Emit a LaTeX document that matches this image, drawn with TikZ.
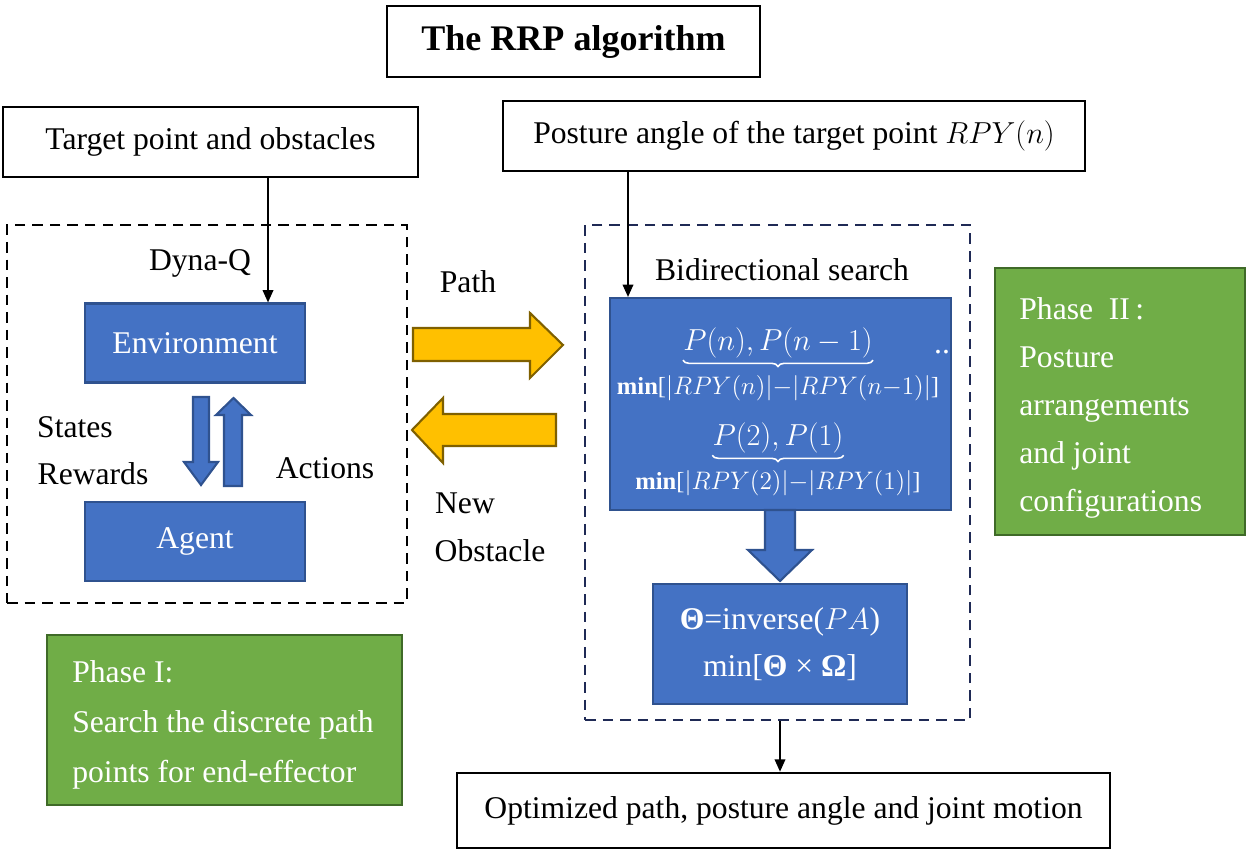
\documentclass[tikz,border=0pt]{standalone}
\usepackage{fontspec}
\setmainfont{Liberation Serif}
\usepackage{amsmath,amssymb}
\usepackage{xcolor}
\usepackage{tikz}
\usetikzlibrary{arrows.meta,decorations.pathreplacing}

\definecolor{boxblue}{HTML}{4472C4}
\definecolor{boxblueline}{HTML}{2F528F}
\definecolor{phasegreen}{HTML}{70AD47}
\definecolor{phasegreenline}{HTML}{3F6A28}
\definecolor{arrowyellow}{HTML}{FFC000}
\definecolor{arrowyellowline}{HTML}{7F6000}
\definecolor{framenavy}{HTML}{1F2A55}

\newcommand{\figfont}{\fontsize{18}{27}\selectfont}

\tikzset{
  plainbox/.style={draw, line width=1.5pt, inner sep=0pt, font=\figfont},
  bluebox/.style={draw=boxblueline, fill=boxblue, line width=1.2pt, inner sep=0pt,
    text=white, font=\figfont, minimum width=4.4cm, minimum height=1.58cm},
  phasebox/.style={draw=phasegreenline, fill=phasegreen, line width=1.2pt, inner sep=0pt},
  phasetext/.style={text=white, font=\fontsize{18}{#1}\selectfont, align=left, inner sep=0pt, anchor=west},
  framebox/.style={draw=#1, dashed, dash pattern=on 6pt off 4pt, line width=1.2pt, inner sep=0pt},
  lbl/.style={font=\figfont, inner sep=0pt},
  minlbl/.style={font=\fontsize{14}{16}\selectfont, inner sep=0pt, text=white},
  ubrace/.style={draw=white, line width=0.9pt, decorate, decoration={brace, mirror, amplitude=3.5pt}},
  link/.style={-{Triangle[length=7pt,width=6pt]}, line width=1pt},
  blockblue/.style={draw=boxblueline, fill=boxblue, line width=1.2pt},
  blockyellow/.style={draw=arrowyellowline, fill=arrowyellow, line width=1.2pt}
}

\begin{document}
\begin{tikzpicture}[x=0.02cm, y=-0.02cm]
	\useasboundingbox (0,0) rectangle (1250,857);
	% title and inputs
	\node[plainbox, minimum width=7.46cm, minimum height=1.42cm, font=\fontsize{20.5}{24}\selectfont\bfseries] (title) at (573.5,41.5) {The RRP algorithm};
	\node[plainbox, minimum width=8.3cm, minimum height=1.4cm] (target) at (210.5,142) {Target point and obstacles};
	\node[plainbox, minimum width=11.64cm, minimum height=1.4cm] (posture) at (794,136) {Posture angle of the target point $RPY(n)$};
	% phase I: Dyna-Q
	\node[framebox=black, minimum width=8cm, minimum height=7.56cm] (lframe) at (207,414) {};
	\node[bluebox] (env) at (195,343) {Environment};
	\node[bluebox] (agent) at (195,541.5) {Agent};
	\node[lbl] (dynaq) at (200,263) {Dyna-Q};
	\node[lbl] (states) at (75,427) {States};
	\node[lbl] (rewards) at (93,474) {Rewards};
	\node[lbl] (actions) at (325,468) {Actions};
	\draw[blockblue] (193,397) -- (209,397) -- (209,462) -- (218,462) -- (201,485) -- (184,462) -- (193,462) -- cycle;
	\draw[blockblue] (224,486) -- (242,486) -- (242,415) -- (251,415) -- (233.5,398) -- (216,415) -- (224,415) -- cycle;
	\coordinate (dq) at (268,0);
	\draw[link] (target.south -| dq) -- (env.north -| dq);
	% exchange between phases
	\draw[blockyellow] (413,328) -- (530,328) -- (530,313) -- (563,345) -- (530,378) -- (530,361) -- (413,361) -- cycle;
	\draw[blockyellow] (556,414) -- (443,414) -- (443,398) -- (412,430) -- (443,463) -- (443,446) -- (556,446) -- cycle;
	\node[lbl] (path) at (468,282) {Path};
	\node[lbl] (new) at (465,503) {New};
	\node[lbl] (obst) at (490,551) {Obstacle};
	% phase II: bidirectional search
	\node[framebox=framenavy, minimum width=7.7cm, minimum height=9.9cm] (rframe) at (777.5,472.5) {};
	\node[lbl] (bidir) at (782,270) {Bidirectional search};
	\node[bluebox, minimum width=6.82cm, minimum height=4.24cm] (pbox) at (780.5,404) {};
	\node[lbl, text=white] (pupper) at (778,343) {$P(n),P(n-1)$};
	\draw[ubrace] ([yshift=-1pt]pupper.south west) -- ([yshift=-1pt]pupper.south east);
	\node[minlbl] (minupper) at (778,388) {\textbf{min}[$|RPY(n)|{-}|RPY(n{-}1)|$]};
	\node[lbl, text=white] (plower) at (778,438) {$P(2),P(1)$};
	\draw[ubrace] ([yshift=-1pt]plower.south west) -- ([yshift=-1pt]plower.south east);
	\node[minlbl] (minlower) at (778,483) {\textbf{min}[$|RPY(2)|{-}|RPY(1)|$]};
	\node[lbl, text=white] (dots) at (942,352) {..};
	\coordinate (pa) at (628,0);
	\draw[link] (posture.south -| pa) -- (pbox.north -| pa);
	\draw[blockblue] (765,510) -- (795,510) -- (795,550) -- (812,550) -- (780,581) -- (748,550) -- (765,550) -- cycle;
	\node[bluebox, minimum width=5.08cm, minimum height=2.4cm, align=center] (theta) at (780,644)
	  {\textbf{Θ}=inverse($PA$)\\min[\textbf{Θ} × \textbf{Ω}]};
	% output
	\node[plainbox, minimum width=13.06cm, minimum height=1.5cm] (opt) at (783.5,810.5) {Optimized path, posture angle and joint motion};
	\draw[link] (rframe.south -| theta.south) -- (opt.north -| theta.south);
	% phase notes
	\node[phasebox, minimum width=7.1cm, minimum height=3.4cm] (phase1) at (224.5,720) {};
	\node[phasetext=28.4] (phase1text) at (72,725) {Phase I:\\Search the discrete path\\points for end-effector};
	\node[phasebox, minimum width=5cm, minimum height=5.34cm] (phase2) at (1120,401.5) {};
	\node[phasetext=27.3] (phase2text) at (1019,408) {Phase\enspace II\,:\\Posture\\arrangements\\and joint\\configurations};
\end{tikzpicture}
\end{document}
